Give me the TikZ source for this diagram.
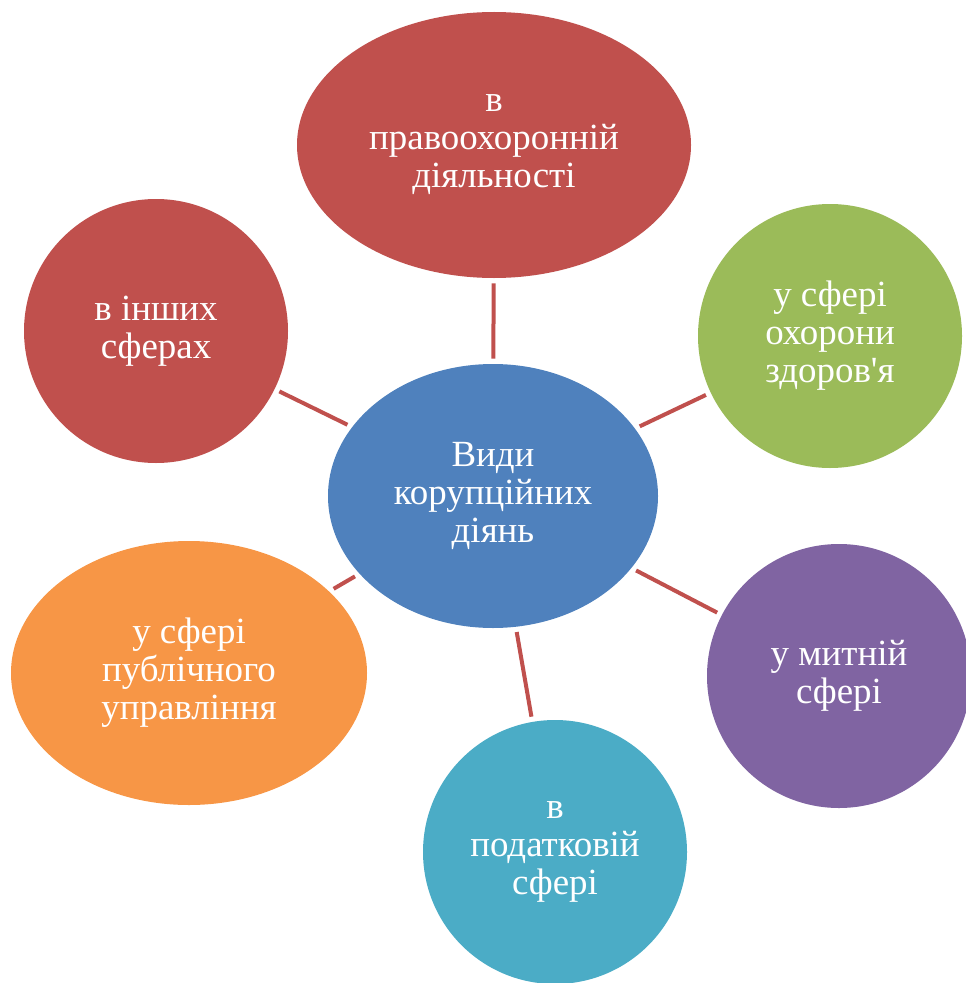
\documentclass[tikz,border=0pt]{standalone}
\usepackage{fontspec}
\setmainfont{Liberation Serif}
\usetikzlibrary{shapes.geometric}

\definecolor{hubblue}{HTML}{4F81BD}
\definecolor{tilered}{HTML}{C0504D}
\definecolor{tilegreen}{HTML}{9BBB59}
\definecolor{tilepurple}{HTML}{8064A2}
\definecolor{tileteal}{HTML}{4BACC6}
\definecolor{tileorange}{HTML}{F79646}

\begin{document}
\begin{tikzpicture}
    % Define styles
    \tikzset{
        hub/.style={
            ellipse,
            fill=hubblue,
            text=white,
            inner sep=0pt,
            minimum width=6.6cm,
            minimum height=5.28cm,
            align=center,
            font=\fontsize{21}{21.6}\selectfont
        },
        roundtile/.style={
            circle,
            text=white,
            inner sep=0pt,
            minimum size=5.28cm,
            align=center,
            font=\fontsize{21}{21.6}\selectfont
        },
        ovaltile/.style={
            ellipse,
            text=white,
            inner sep=0pt,
            minimum height=5.28cm,
            align=center,
            font=\fontsize{21}{21.6}\selectfont
        },
        spoke/.style={
            tilered,
            line width=0.08cm,
            shorten <=0.1cm,
            shorten >=0.1cm
        }
    }

    \useasboundingbox (0,0) rectangle (19.3,-19.66);

    % Centre
    \node[hub] (kinds) at (9.86,-9.92) {Види\\корупційних\\діянь};

    % Spheres around the centre
    \node[ovaltile, fill=tilered, minimum width=7.88cm, minimum height=5.32cm] (law) at (9.88,-2.9) {в\\правоохоронній\\діяльності};
    \node[roundtile, fill=tilegreen] (health) at (16.6,-6.72) {у сфері\\охорони\\здоров\textquotesingle я};
    \node[roundtile, fill=tilepurple] (customs) at (16.78,-13.52) {у митній\\сфері};
    \node[roundtile, fill=tileteal] (tax) at (11.1,-17.04) {в\\податковій\\сфері};
    \node[ovaltile, fill=tileorange, minimum width=7.12cm] (public) at (3.78,-13.46) {у сфері\\публічного\\управління};
    \node[roundtile, fill=tilered] (other) at (3.12,-6.62) {в інших\\сферах};

    % Connect centre to spheres
    \draw[spoke] (kinds) -- (law);
    \draw[spoke] (kinds) -- (health);
    \draw[spoke] (kinds) -- (customs);
    \draw[spoke] (kinds) -- (tax);
    \draw[spoke] (kinds) -- (public);
    \draw[spoke] (kinds) -- (other);

\end{tikzpicture}
\end{document}
